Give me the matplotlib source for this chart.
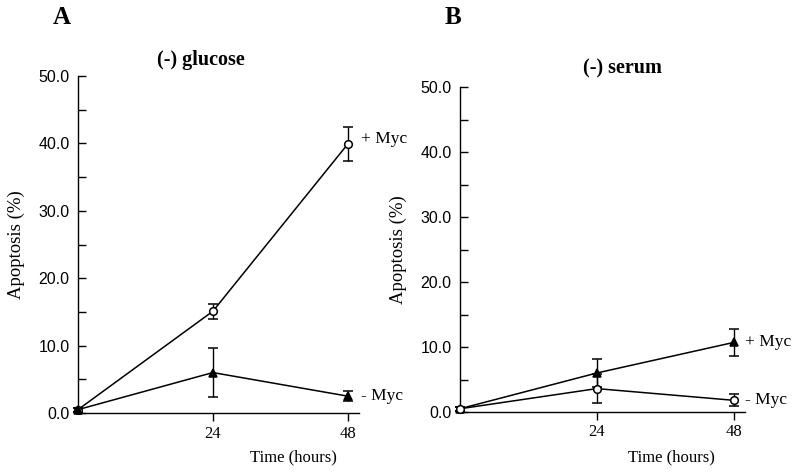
import matplotlib
matplotlib.use("Agg")
import matplotlib.pyplot as plt

hours = [0, 24, 48]
x_ticks = [24, 48]
y_ticks = [0, 10, 20, 30, 40, 50]
y_labels = ["0.0", "10.0", "20.0", "30.0", "40.0", "50.0"]

# Panel A: (-) glucose
a_plus_myc = [0.5, 15.1, 39.9]
a_plus_err = [0.3, 1.1, 2.5]
a_minus_myc = [0.5, 6.0, 2.5]
a_minus_err = [0.3, 3.7, 0.7]

# Panel B: (-) serum
b_plus_myc = [0.5, 6.0, 10.7]
b_plus_err = [0.3, 2.2, 2.1]
b_minus_myc = [0.5, 3.6, 1.8]
b_minus_err = [0.3, 2.2, 0.9]

serif = ["Liberation Serif", "DejaVu Serif"]
sans = ["Liberation Sans", "DejaVu Sans"]

fig = plt.figure(figsize=(8.0, 4.74), dpi=100)
axA = fig.add_axes([78/800, 1-413/474, (359-78)/800, (413-76)/474])
axB = fig.add_axes([460/800, 1-412/474, (745-460)/800, (412-87)/474])


def style(ax):
    ax.set_xlim(0, 50)
    ax.set_ylim(0, 50)
    for s in ["top", "right"]:
        ax.spines[s].set_visible(False)
    ax.spines["left"].set_linewidth(1.0)
    ax.spines["bottom"].set_linewidth(1.0)
    ax.set_yticks(y_ticks)
    ax.set_yticklabels(y_labels, fontfamily=sans, fontsize=11.5)
    ax.set_yticks([5, 15, 25, 35, 45], minor=True)
    ax.tick_params(axis="y", which="both", direction="in", length=6, width=1, pad=6)
    ax.set_xticks(x_ticks)
    ax.set_xticklabels([str(t) for t in x_ticks], fontfamily=serif, fontsize=12)
    ax.tick_params(axis="x", direction="out", length=6, width=1, pad=3)
    ax.set_ylabel("Apoptosis (%)", fontfamily=serif, fontsize=13.5, labelpad=10)


def series(ax, y, err, marker, filled):
    ax.errorbar(hours, y, yerr=err, color="black", lw=1.1, elinewidth=1,
                capsize=3.5, capthick=1, marker=marker, ms=5.5 if marker == "o" else 6,
                mfc="black" if filled else "white", mec="black", mew=1.1,
                clip_on=False, zorder=3)


style(axA)
series(axA, a_plus_myc, a_plus_err, "o", False)
series(axA, a_minus_myc, a_minus_err, "^", True)
axA.text(50.3, a_plus_myc[2] + 0.8, "+ Myc", fontfamily=serif, fontsize=12.5, va="center", ha="left", clip_on=False)
axA.text(50.3, a_minus_myc[2], "- Myc", fontfamily=serif, fontsize=12.5, va="center", ha="left", clip_on=False)

style(axB)
series(axB, b_plus_myc, b_plus_err, "^", True)
series(axB, b_minus_myc, b_minus_err, "o", False)
axB.text(50.0, b_plus_myc[2], "+ Myc", fontfamily=serif, fontsize=12.5, va="center", ha="left", clip_on=False)
axB.text(50.0, b_minus_myc[2], "- Myc", fontfamily=serif, fontsize=12.5, va="center", ha="left", clip_on=False)

fig.text(201/800, 1-60/474, "(-) glucose", fontfamily=serif, fontweight="bold", fontsize=14.5, ha="center", va="center")
fig.text(622/800, 1-68/474, "(-) serum", fontfamily=serif, fontweight="bold", fontsize=14.5, ha="center", va="center")
fig.text(293/800, 1-457/474, "Time (hours)", fontfamily=serif, fontsize=12, ha="center", va="center")
fig.text(671/800, 1-457/474, "Time (hours)", fontfamily=serif, fontsize=12, ha="center", va="center")

fig.text(62/800, 1-17/474, "A", fontfamily=serif, fontweight="bold", fontsize=18, ha="center", va="center")
fig.text(453/800, 1-17/474, "B", fontfamily=serif, fontweight="bold", fontsize=18, ha="center", va="center")

fig.savefig("out.png", dpi=100, facecolor="white")
